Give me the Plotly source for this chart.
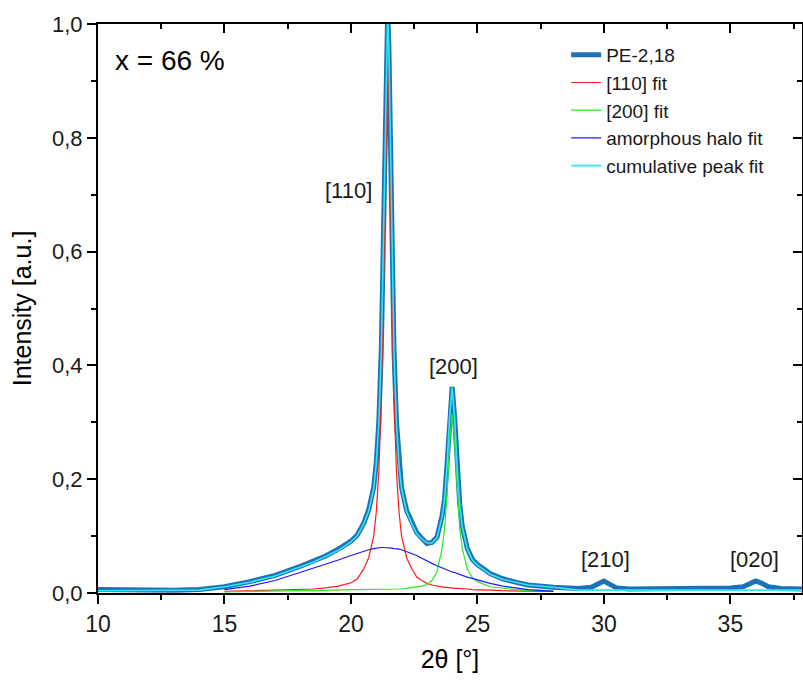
import plotly.graph_objects as go

# ---- data ----
x_fit = [15, 16, 17, 18, 18.5, 19, 19.5, 20, 20.25, 20.5, 20.7, 20.9, 21.0, 21.1, 21.2,
         21.3, 21.4, 21.45, 21.5, 21.6, 21.7, 21.8, 21.9, 22.0, 22.2, 22.4, 22.6, 22.8,
         23.0, 23.2, 23.4, 23.6, 23.7, 23.8, 23.9, 24.0, 24.1, 24.2, 24.3, 24.4, 24.6,
         24.8, 25.0, 25.5, 26, 26.5, 27, 28]

fit_110 = [0.003, 0.004, 0.005, 0.006, 0.007, 0.009, 0.012, 0.018, 0.025, 0.042, 0.062,
           0.100, 0.142, 0.212, 0.340, 0.573, 0.870, 0.930, 0.870, 0.573, 0.340, 0.212,
           0.142, 0.100, 0.062, 0.043, 0.028, 0.022, 0.017, 0.014, 0.012, 0.011, 0.010,
           0.010, 0.009, 0.009, 0.008, 0.008, 0.008, 0.007, 0.007, 0.006, 0.006, 0.005,
           0.004, 0.004, 0.003, 0.003]

fit_200 = [0.002, 0.003, 0.003, 0.004, 0.004, 0.005, 0.005, 0.006, 0.006, 0.006, 0.006,
           0.006, 0.006, 0.006, 0.006, 0.006, 0.006, 0.006, 0.006, 0.006, 0.006, 0.006,
           0.006, 0.007, 0.008, 0.009, 0.010, 0.012, 0.015, 0.022, 0.037, 0.078, 0.113,
           0.175, 0.262, 0.315, 0.262, 0.175, 0.113, 0.078, 0.042, 0.027, 0.020, 0.011,
           0.008, 0.006, 0.005, 0.004]

fit_halo = [0.006, 0.012, 0.022, 0.036, 0.043, 0.050, 0.058, 0.066, 0.070, 0.073, 0.076,
            0.078, 0.079, 0.080, 0.080, 0.080, 0.080, 0.080, 0.079, 0.079, 0.078, 0.078,
            0.077, 0.076, 0.073, 0.070, 0.066, 0.061, 0.056, 0.052, 0.048, 0.044, 0.042,
            0.041, 0.039, 0.037, 0.036, 0.034, 0.033, 0.031, 0.028, 0.025, 0.023, 0.017,
            0.012, 0.009, 0.006, 0.003]

x_all = [10, 11, 12, 13, 14, 15, 16, 17, 18, 18.5, 19, 19.5, 20, 20.25, 20.5, 20.7, 20.9,
         21.0, 21.1, 21.2, 21.3, 21.4, 21.45, 21.5, 21.6, 21.7, 21.8, 21.9, 22.0, 22.2,
         22.4, 22.6, 22.8, 23.0, 23.2, 23.4, 23.6, 23.7, 23.8, 23.9, 24.0, 24.1, 24.2,
         24.3, 24.4, 24.6, 24.8, 25.0, 25.5, 26, 26.5, 27, 28, 29, 29.5, 29.8, 30.0,
         30.2, 30.5, 31, 32, 33, 34, 35, 35.5, 35.8, 36.0, 36.2, 36.5, 37, 38]

cumulative = [0.004, 0.004, 0.004, 0.004, 0.005, 0.011, 0.019, 0.030, 0.046, 0.054, 0.064,
              0.075, 0.090, 0.101, 0.121, 0.144, 0.184, 0.227, 0.298, 0.426, 0.659, 0.956,
              1.016, 0.955, 0.658, 0.424, 0.296, 0.225, 0.183, 0.143, 0.122, 0.104, 0.095,
              0.088, 0.088, 0.097, 0.133, 0.165, 0.226, 0.310, 0.361, 0.306, 0.217, 0.154,
              0.116, 0.077, 0.058, 0.049, 0.033, 0.024, 0.019, 0.014, 0.010, 0.005, 0.005,
              0.005, 0.005, 0.005, 0.005, 0.005, 0.005, 0.005, 0.005, 0.005, 0.005, 0.005,
              0.005, 0.005, 0.005, 0.005, 0.005]

pe_218 = [0.006, 0.005, 0.004, 0.005, 0.006, 0.011, 0.020, 0.031, 0.047, 0.056, 0.065,
          0.077, 0.091, 0.102, 0.122, 0.146, 0.186, 0.230, 0.300, 0.430, 0.665, 0.960,
          1.020, 0.960, 0.662, 0.428, 0.300, 0.228, 0.185, 0.145, 0.123, 0.106, 0.096,
          0.087, 0.089, 0.098, 0.135, 0.166, 0.228, 0.312, 0.362, 0.308, 0.219, 0.156,
          0.117, 0.078, 0.059, 0.050, 0.034, 0.025, 0.019, 0.014, 0.010, 0.008, 0.010,
          0.017, 0.021, 0.016, 0.009, 0.007, 0.007, 0.008, 0.008, 0.009, 0.011, 0.017,
          0.021, 0.018, 0.011, 0.008, 0.007]

x_ticks = [10, 15, 20, 25, 30, 35]
y_ticks = [0.0, 0.2, 0.4, 0.6, 0.8, 1.0]

FONT = "Liberation Sans, Arial, sans-serif"
TXT = "#1a1a1a"

fig = go.Figure()
fig.add_trace(go.Scatter(x=x_all, y=pe_218, mode="lines", name="PE-2,18",
                         line=dict(color="#1f70b6", width=5)))
fig.add_trace(go.Scatter(x=x_fit, y=fit_110, mode="lines", name="[110] fit",
                         line=dict(color="#ff1a1a", width=1.2)))
fig.add_trace(go.Scatter(x=x_fit, y=fit_200, mode="lines", name="[200] fit",
                         line=dict(color="#22ee22", width=1.2)))
fig.add_trace(go.Scatter(x=x_fit, y=fit_halo, mode="lines", name="amorphous halo fit",
                         line=dict(color="#1a1aff", width=1.2)))
fig.add_trace(go.Scatter(x=x_all, y=cumulative, mode="lines", name="cumulative peak fit",
                         line=dict(color="#2ee8f2", width=1.6)))

x_range = [10, 37.83]
y_range = [0, 1.0]

axis_common = dict(showline=True, linecolor="black", linewidth=2, showgrid=False,
                   zeroline=False, tickcolor="black", tickwidth=2)

fig.update_layout(
    width=803, height=684,
    margin=dict(l=98, r=1, t=24, b=91),
    paper_bgcolor="white", plot_bgcolor="white",
    separators=",.",
    font=dict(family=FONT, color=TXT),
    xaxis=dict(range=x_range, tickvals=x_ticks, ticks="outside", ticklen=9,
               minor=dict(dtick=2.5, tick0=10, ticks="outside", ticklen=5,
                          tickwidth=2, tickcolor="black"),
               tickfont=dict(size=23, family=FONT, color=TXT),
               title=dict(text="2θ [°]", font=dict(size=25, family=FONT, color="black"),
                          standoff=15),
               **axis_common),
    yaxis=dict(range=y_range, tickvals=y_ticks, tickformat=".1f", ticks="outside",
               ticklen=9,
               minor=dict(dtick=0.1, tick0=0, ticks="outside", ticklen=5,
                          tickwidth=2, tickcolor="black"),
               tickfont=dict(size=22, family=FONT, color=TXT),
               title=dict(text="Intensity [a.u.]",
                          font=dict(size=25, family=FONT, color="black"), standoff=13),
               **axis_common),
    xaxis2=dict(range=x_range, overlaying="x", side="top", tickvals=x_ticks,
                ticks="inside", ticklen=9, showticklabels=False,
                minor=dict(dtick=2.5, tick0=10, ticks="inside", ticklen=5,
                           tickwidth=2, tickcolor="black"),
                **axis_common),
    yaxis2=dict(range=y_range, overlaying="y", side="right", tickvals=y_ticks,
                ticks="inside", ticklen=9, showticklabels=False,
                minor=dict(dtick=0.1, tick0=0, ticks="inside", ticklen=5,
                           tickwidth=2, tickcolor="black"),
                **axis_common),
    legend=dict(x=0.665, y=0.979, xanchor="left", yanchor="top",
                bgcolor="rgba(0,0,0,0)", borderwidth=0,
                font=dict(size=19, family=FONT, color=TXT),
                traceorder="normal"),
    showlegend=True,
)

# invisible trace that activates the mirrored top/right axes
fig.add_trace(go.Scatter(x=[None], y=[None], xaxis="x2", yaxis="y2",
                         showlegend=False, hoverinfo="skip"))

annotations = [
    ("[110]", 19.92, 0.707),
    ("[200]", 24.07, 0.398),
    ("[210]", 30.07, 0.059),
    ("[020]", 35.97, 0.059),
]
for text, ax, ay in annotations:
    fig.add_annotation(x=ax, y=ay, xref="x", yref="y", text=text, showarrow=False,
                       font=dict(size=22, family=FONT, color=TXT))

fig.add_annotation(x=0.021, y=0.935, xref="paper", yref="paper", text="x = 66 %",
                   showarrow=False, xanchor="left", yanchor="middle",
                   font=dict(size=28, family=FONT, color="black"))

fig.write_html("out.html")
